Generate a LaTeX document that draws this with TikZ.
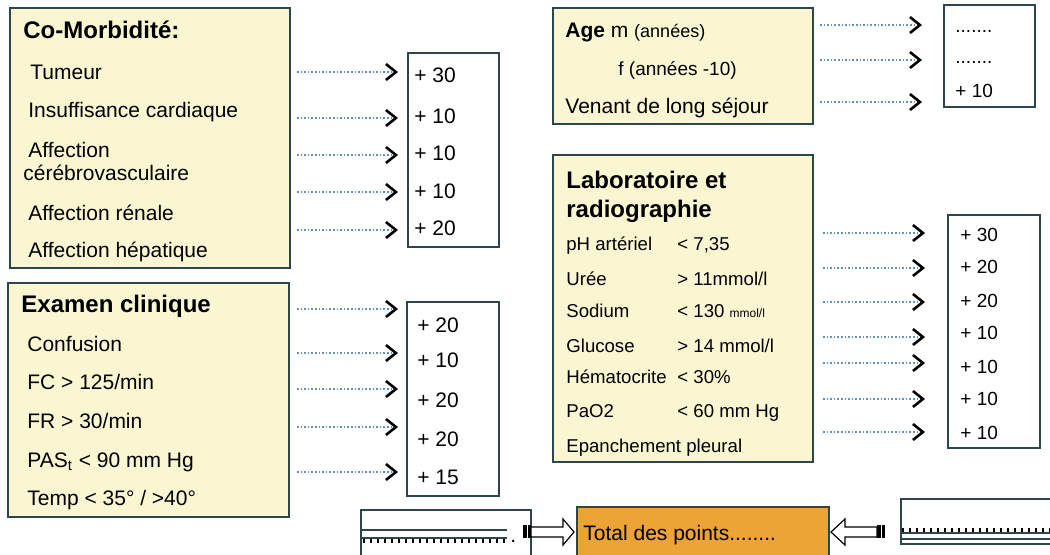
\documentclass[tikz,border=0pt]{standalone}
\usepackage{fontspec}
\setmainfont{Liberation Sans}
\usetikzlibrary{arrows.meta,fit}
\definecolor{cream}{RGB}{250,246,210}
\definecolor{edge}{RGB}{45,70,76}
\definecolor{dots}{RGB}{95,145,188}
\definecolor{total}{RGB}{238,163,54}

\begin{document}
\begin{tikzpicture}[x=0.5pt,y=-0.5pt,
  panel/.style={draw=edge,fill=cream,line width=1pt,inner sep=0pt},
  scorebox/.style={draw=edge,fill=white,line width=0.8pt,inner sep=0pt},
  item/.style={anchor=base west,inner sep=0pt,font=\fontsize{10.5}{12}\selectfont},
  labitem/.style={anchor=base west,inner sep=0pt,font=\fontsize{9.3}{11}\selectfont},
  head/.style={anchor=base west,inner sep=0pt,font=\fontsize{12}{14}\selectfont\bfseries},
  pts/.style={anchor=base west,inner sep=0pt,font=\fontsize{10.5}{12}\selectfont},
  labpts/.style={anchor=base west,inner sep=0pt,font=\fontsize{9.5}{11}\selectfont},
  flow/.style={draw=dots,densely dotted,line width=0.8pt,
    -{Straight Barb[color=black,length=5pt,width=8pt,line width=1.3pt]}},
  hollow/.style={draw=black,fill=white,line width=0.6pt},
  ticks/.style={line width=2pt,dash pattern=on 1pt off 2.5pt}]
\useasboundingbox (0,0) rectangle (1050,554);
\clip (0,0) rectangle (1050,554);

% co-morbidite
\node[panel,fit={(10,8) (290,268)}] (cm) {};
\node[head] (cmt) at (23,38) {Co-Morbidité:};
\node[item] (tum) at (30,79) {Tumeur};
\node[item] (ins) at (28,117) {Insuffisance cardiaque};
\node[item] (aff) at (28,157) {Affection};
\node[item] (cer) at (23,180) {cérébrovasculaire};
\node[item] (ren) at (28,220) {Affection rénale};
\node[item] (hep) at (28,257) {Affection hépatique};
\node[scorebox,fit={(408,53) (499,247)}] (cms) {};
\foreach \y/\p [count=\i] in {82/30,123/10,160/10,198/10,235/20}
  \node[pts] (cms\i) at (414,\y) {+ \p};
\foreach \y [count=\i] in {72,118,155,192,230}{
  \coordinate (cma\i) at (297,\y);
  \coordinate (cmb\i) at (398,\y);
  \draw[flow] (cma\i) -- (cmb\i);
}

% examen clinique
\node[panel,fit={(8,283) (289,517)}] (ex) {};
\node[head] (ext) at (21,312) {Examen clinique};
\node[item] (conf) at (27,351) {Confusion};
\node[item] (fc) at (27,389) {FC > 125/min};
\node[item] (fr) at (27,428) {FR > 30/min};
\node[item] (pas) at (27,467) {PAS\textsubscript{t} < 90 mm Hg};
\node[item] (temp) at (27,505) {Temp < 35° / >40°};
\node[scorebox,fit={(407,302) (499,496)}] (exs) {};
\foreach \y/\p [count=\i] in {332/20,367/10,407/20,446/20,484/15}
  \node[pts] (exs\i) at (417,\y) {+ \p};
\foreach \y [count=\i] in {309,353,389,427,472}{
  \coordinate (exa\i) at (297,\y);
  \coordinate (exb\i) at (398,\y);
  \draw[flow] (exa\i) -- (exb\i);
}

% age
\node[panel,fit={(553,8) (813,124)}] (age) {};
\node[item] (agem) at (565,37) {{\bfseries Age} m {\fontsize{9}{10}\selectfont(années)}};
\node[item,font=\fontsize{9.5}{11}\selectfont] (agef) at (618,75) {f (années -10)};
\node[item] (long) at (565,113) {Venant de long séjour};
\node[scorebox,fit={(944,5) (1035,107)}] (ages) {};
\node[labpts] (ages1) at (955,32) {.......};
\node[labpts] (ages2) at (955,63) {.......};
\node[labpts] (ages3) at (955,97) {+ 10};
\foreach \y [count=\i] in {25,60,102}{
  \coordinate (aga\i) at (820,\y);
  \coordinate (agb\i) at (922,\y);
  \draw[flow] (aga\i) -- (agb\i);
}

% laboratoire
\node[panel,fit={(553,155) (813,462)}] (lab) {};
\node[head] (labt1) at (566,188) {Laboratoire et};
\node[head] (labt2) at (566,217) {radiographie};
\foreach \y/\a/\b [count=\i] in {250/pH artériel/{< 7,35}, 285/Urée/{> 11mmol/l},
    317/Sodium/{< 130 {\fontsize{6}{7}\selectfont mmol/l}}, 352/Glucose/{> 14 mmol/l},
    383/Hématocrite/{< 30\%}, 417/PaO2/{< 60 mm Hg}}{
  \node[labitem] (lab\i) at (566,\y) {\a};
  \node[labitem] (labv\i) at (677,\y) {\b};
}
\node[labitem] (epa) at (566,452) {Epanchement pleural};
\node[scorebox,fit={(948,215) (1040,448)}] (labs) {};
\foreach \y/\p [count=\i] in {241/30,273/20,307/20,339/10,373/10,405/10,439/10}
  \node[labpts] (labs\i) at (960,\y) {+ \p};
\foreach \y [count=\i] in {233,268,302,337,363,399,432}{
  \coordinate (lba\i) at (823,\y);
  \coordinate (lbb\i) at (925,\y);
  \draw[flow] (lba\i) -- (lbb\i);
}

% total
\node[draw=edge,fill=white,line width=0.8pt,inner sep=0pt,fit={(361,510) (531,580)}] (sumL) {};
\draw[edge,line width=0.7pt] (361,530) -- (507,530);
\draw[edge,line width=0.7pt] (361,538) -- (507,538);
\draw[ticks] (363,541) -- (507,541);
\node[item] (dotL) at (510,542) {.};
\node[draw=edge,fill=total,line width=1pt,inner sep=0pt,fit={(577,507) (829,580)}] (tot) {};
\node[item] (tott) at (583,540) {Total des points........};
\coordinate (tailL) at (531,532);
\fill (523,525) rectangle (526.5,538);
\fill (527.5,525) rectangle (531,538);
\draw[hollow] (531,527) -- (563,527) -- (563,519) -- (574,532)
  -- (563,545) -- (563,537) -- (tailL |- 0,537) -- cycle;
\node[draw=edge,fill=white,line width=0.8pt,inner sep=0pt,fit={(901,499) (1070,544)}] (sumR) {};
\draw[edge,line width=1pt] (902,533) -- (1050,533);
\draw[ticks] (902,529.5) -- (1050,529.5);
\draw[edge,line width=0.7pt] (902,539) -- (1050,539);
\coordinate (tailR) at (877,532);
\fill (877,525) rectangle (880.5,538);
\fill (881.5,525) rectangle (885,538);
\draw[hollow] (877,527) -- (845,527) -- (845,519) -- (831,532)
  -- (845,545) -- (845,537) -- (tailR |- 0,537) -- cycle;
\end{tikzpicture}
\end{document}
